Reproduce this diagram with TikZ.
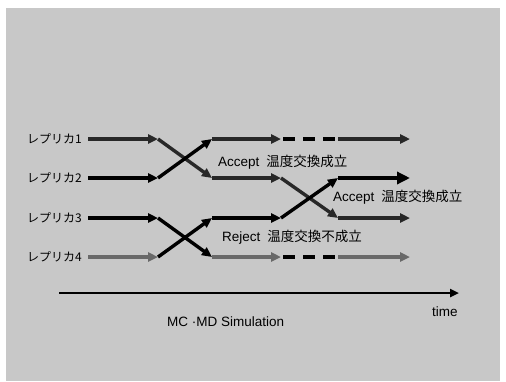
\documentclass[tikz,border=0pt]{standalone}
\usepackage{fontspec}
\setmainfont{Liberation Sans}
\newfontfamily\jp{Noto Sans CJK JP}
\usetikzlibrary{arrows.meta}
\definecolor{bggray}{RGB}{200,200,200}
\definecolor{darkline}{RGB}{40,40,40}
\definecolor{midline}{RGB}{105,105,105}
\tikzset{
  seg/.style={line width=3.4pt, -{Triangle[length=10pt,width=9pt]}},
  bigseg/.style={line width=4pt, -{Triangle[length=13pt,width=12pt]}},
  gapdash/.style={line width=3.2pt, dash pattern=on 12pt off 8pt},
  lbl/.style={anchor=west, inner sep=0pt, font=\fontsize{12}{14}\selectfont\jp},
  txt/.style={anchor=west, inner sep=0pt, font=\fontsize{13.5}{16}\selectfont},
}
\begin{document}
\begin{tikzpicture}[x=1pt,y=-1pt]
\useasboundingbox (0,0) rectangle (506,381);
\fill[white] (0,0) rectangle (506,381);
\fill[bggray] (6,8) rectangle (500,381);

% coordinates
\foreach \n/\y in {1/139,2/178,3/218,4/257}{
  \coordinate (a\n) at (88,\y);
  \coordinate (b\n) at (158,\y);
  \coordinate (c\n) at (212,\y);
  \coordinate (d\n) at (281,\y);
  \coordinate (dd\n) at (283,\y);
  \coordinate (ee\n) at (335,\y);
  \coordinate (e\n) at (338,\y);
  \coordinate (f\n) at (410,\y);
}

% labels
\node[lbl] (l1) at (27,139) {レプリカ1};
\node[lbl] (l2) at (27,178) {レプリカ2};
\node[lbl] (l3) at (27,218) {レプリカ3};
\node[lbl] (l4) at (27,257) {レプリカ4};

% start segments
\draw[seg, darkline] (a1) -- (b1);
\draw[seg, black] (a2) -- (b2);
\draw[seg, black] (a3) -- (b3);
\draw[seg, midline] (a4) -- (b4);

% first exchange
\draw[seg, darkline] (b1) -- (c2);
\draw[seg, black] (b2) -- (c1);
\draw[seg, black] (b3) -- (c4);
\draw[seg, black] (b4) -- (c3);

% middle segments
\draw[seg, darkline] (c1) -- (d1);
\draw[gapdash, black] (dd1) -- (ee1);
\draw[seg, darkline] (e1) -- (f1);

\draw[seg, darkline] (c2) -- (d2);
\draw[seg, black] (c3) -- (d3);

\draw[seg, midline] (c4) -- (d4);
\draw[gapdash, black] (dd4) -- (ee4);
\draw[seg, midline] (e4) -- (f4);

% second exchange
\draw[seg, darkline] (d2) -- (e3);
\draw[seg, black] (d3) -- (e2);
\draw[bigseg, black] (e2) -- (f2);
\draw[seg, darkline] (e3) -- (f3);

% texts
\node[txt] (acc1) at (218,162) {Accept\hspace{7pt}{\jp 温度交換成立}};
\node[txt] (acc2) at (333,197) {Accept\hspace{7pt}{\jp 温度交換成立}};
\node[txt] (rej) at (222,237) {Reject\hspace{7pt}{\jp 温度交換不成立}};

% time axis
\coordinate (t0) at (59,293);
\coordinate (t1) at (459,293);
\draw[line width=2.4pt, -{Triangle[length=9pt,width=8pt]}] (t0) -- (t1);
\node[txt] (time) at (432,312) {time};
\node[txt] (sim) at (167,322) {MC ·MD Simulation};
\end{tikzpicture}
\end{document}
